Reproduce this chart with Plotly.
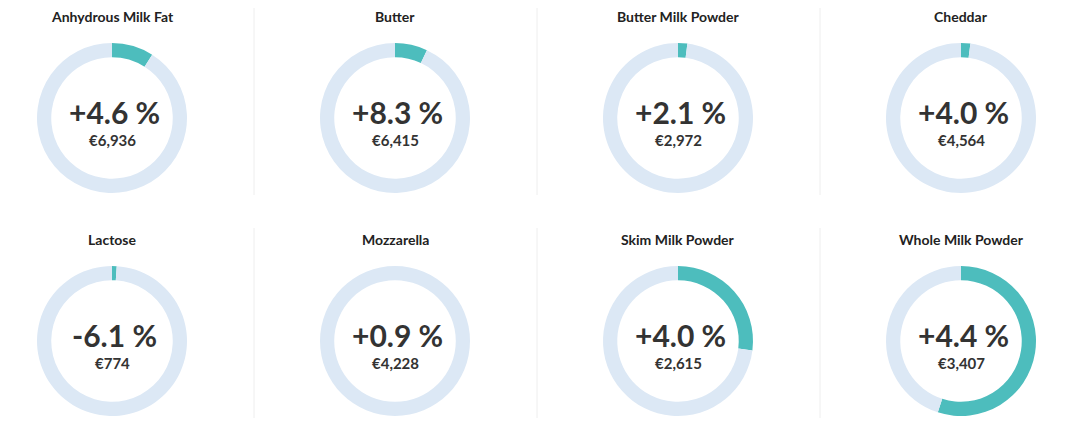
import plotly.graph_objects as go

products = ["Anhydrous Milk Fat", "Butter", "Butter Milk Powder", "Cheddar",
            "Lactose", "Mozzarella", "Skim Milk Powder", "Whole Milk Powder"]
changes = ["+4.6 %", "+8.3 %", "+2.1 %", "+4.0 %", "-6.1 %", "+0.9 %", "+4.0 %", "+4.4 %"]
prices = ["€6,936", "€6,415", "€2,972", "€4,564", "€774", "€4,228", "€2,615", "€3,407"]
fill_share = [0.09, 0.07, 0.02, 0.02, 0.01, 0.0, 0.27, 0.55]

W, H = 1056, 421
OFF = 8
cx = [112 - OFF, 395 - OFF, 678 - OFF, 961 - OFF]
cy = [118 - OFF, 341 - OFF]
R = 75
fig = go.Figure()
ann = []
shapes = []
for i, p in enumerate(products):
    x0 = cx[i % 4]; y0 = cy[i // 4]
    f = fill_share[i]
    fig.add_trace(go.Pie(values=[f, 1 - f], sort=False, direction="clockwise", rotation=0,
                         hole=0.81, marker=dict(colors=["#4dbdbd", "#dce8f5"], line=dict(width=0)),
                         textinfo="none", hoverinfo="skip", showlegend=False,
                         domain=dict(x=[(x0 - R) / W, (x0 + R) / W], y=[1 - (y0 + R) / H, 1 - (y0 - R) / H])))
    common = dict(showarrow=False, xref="paper", yref="paper", xanchor="center", yanchor="middle")
    ann.append(dict(x=x0 / W, y=1 - (y0 - 101) / H, text="<b>%s</b>" % p,
                    font=dict(size=14, color="#222"), **common))
    ann.append(dict(x=(x0 + 2) / W, y=1 - (y0 - 6) / H, text="<b>%s</b>" % changes[i],
                    font=dict(size=30, color="#333"), **common))
    ann.append(dict(x=x0 / W, y=1 - (y0 + 22) / H, text="<b>%s</b>" % prices[i],
                    font=dict(size=15, color="#333"), **common))
for sx in [254, 537, 820]:
    for ya, yb in [(5, 195), (228, 418)]:
        shapes.append(dict(type="line", xref="paper", yref="paper", x0=(sx - OFF) / W, x1=(sx - OFF) / W,
                           y0=1 - (ya - OFF) / H, y1=1 - (yb - OFF) / H, line=dict(color="#eeeeee", width=1)))
fig.update_layout(width=W, height=H, margin=dict(l=0, r=0, t=0, b=0), paper_bgcolor="white",
                  font=dict(family="Lato"), annotations=ann, shapes=shapes)
fig.write_html("out.html")
